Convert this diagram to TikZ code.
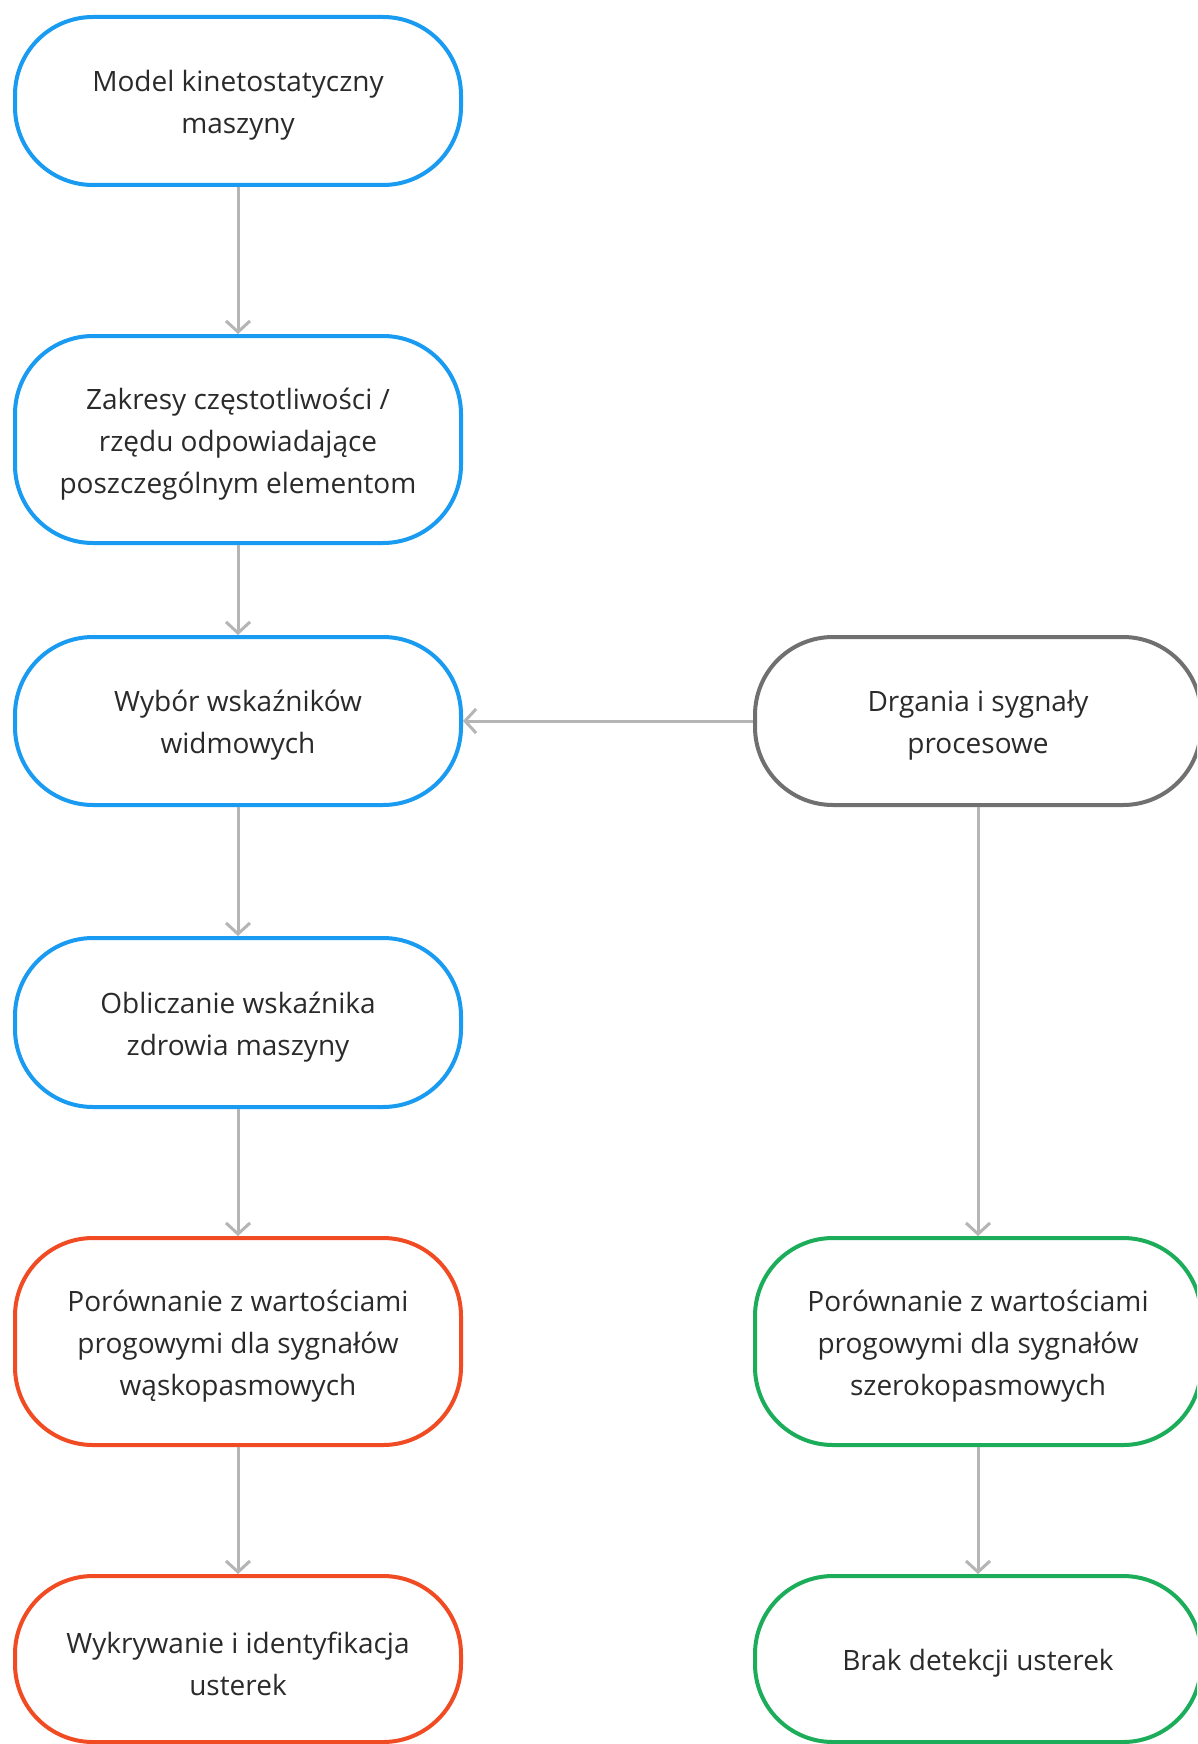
\documentclass[tikz,border=0pt]{standalone}
\usepackage{fontspec}
\setmainfont{Open Sans}
\usetikzlibrary{arrows.meta}
\definecolor{cblue}{HTML}{1A9BF2}
\definecolor{cred}{HTML}{F04B23}
\definecolor{cgreen}{HTML}{1BAD5A}
\definecolor{cgray}{HTML}{707070}
\definecolor{carrow}{HTML}{B5B5B5}
\definecolor{ctext}{HTML}{2A2A2A}
\tikzset{
  box/.style={draw, line width=4pt, rounded corners=78pt, minimum width=446pt,
    fill=white, inner sep=0pt},
  txt/.style={align=center, text=ctext, font=\fontsize{28pt}{42pt}\selectfont,
    inner sep=0pt, yshift=-4.5pt},
  bluebox/.style={box, draw=cblue},
  redbox/.style={box, draw=cred},
  greenbox/.style={box, draw=cgreen},
  graybox/.style={box, draw=cgray},
  link/.style={draw=carrow, line width=3pt, -{Straight Barb[length=11pt,width=24pt,line width=3pt]}},
}
\begin{document}
\begin{tikzpicture}
\useasboundingbox[fill=white] (0pt,0pt) rectangle (1197pt,-1744pt);
\begin{scope}
\clip (0pt,0pt) rectangle (1197pt,-1744pt);
\node[bluebox, minimum height=168pt, label={[txt]center:{Model kinetostatyczny\\maszyny}}] (b1) at (238pt,-101pt) {};
\node[bluebox, minimum height=207pt, label={[txt]center:{Zakresy częstotliwości /\\rzędu odpowiadające\\poszczególnym elementom}}] (b2) at (238pt,-439.5pt) {};
\node[bluebox, minimum height=168pt, label={[txt]center:{Wybór wskaźników\\widmowych}}] (b3) at (238pt,-721pt) {};
\node[bluebox, minimum height=169pt, label={[txt]center:{Obliczanie wskaźnika\\zdrowia maszyny}}] (b4) at (238pt,-1022.5pt) {};
\node[redbox, minimum height=207pt, label={[txt]center:{Porównanie z wartościami\\progowymi dla sygnałów\\wąskopasmowych}}] (b5) at (238pt,-1341.5pt) {};
\node[redbox, minimum height=166pt, label={[txt]center:{Wykrywanie i identyfikacja\\usterek}}] (b6) at (238pt,-1659pt) {};
\node[graybox, minimum height=168pt, label={[txt]center:{Drgania i sygnały\\procesowe}}] (r1) at (978pt,-721pt) {};
\node[greenbox, minimum height=207pt, label={[txt]center:{Porównanie z wartościami\\progowymi dla sygnałów\\szerokopasmowych}}] (r2) at (978pt,-1341.5pt) {};
\node[greenbox, minimum height=166pt, label={[txt]center:{Brak detekcji usterek}}] (r3) at (978pt,-1659pt) {};
\draw[link] (b1) -- (b2);
\draw[link] (b2) -- (b3);
\draw[link] (b3) -- (b4);
\draw[link] (b4) -- (b5);
\draw[link] (b5) -- (b6);
\draw[link] (r1) -- (b3);
\draw[link] (r1) -- (r2);
\draw[link] (r2) -- (r3);
\end{scope}
\end{tikzpicture}
\end{document}
